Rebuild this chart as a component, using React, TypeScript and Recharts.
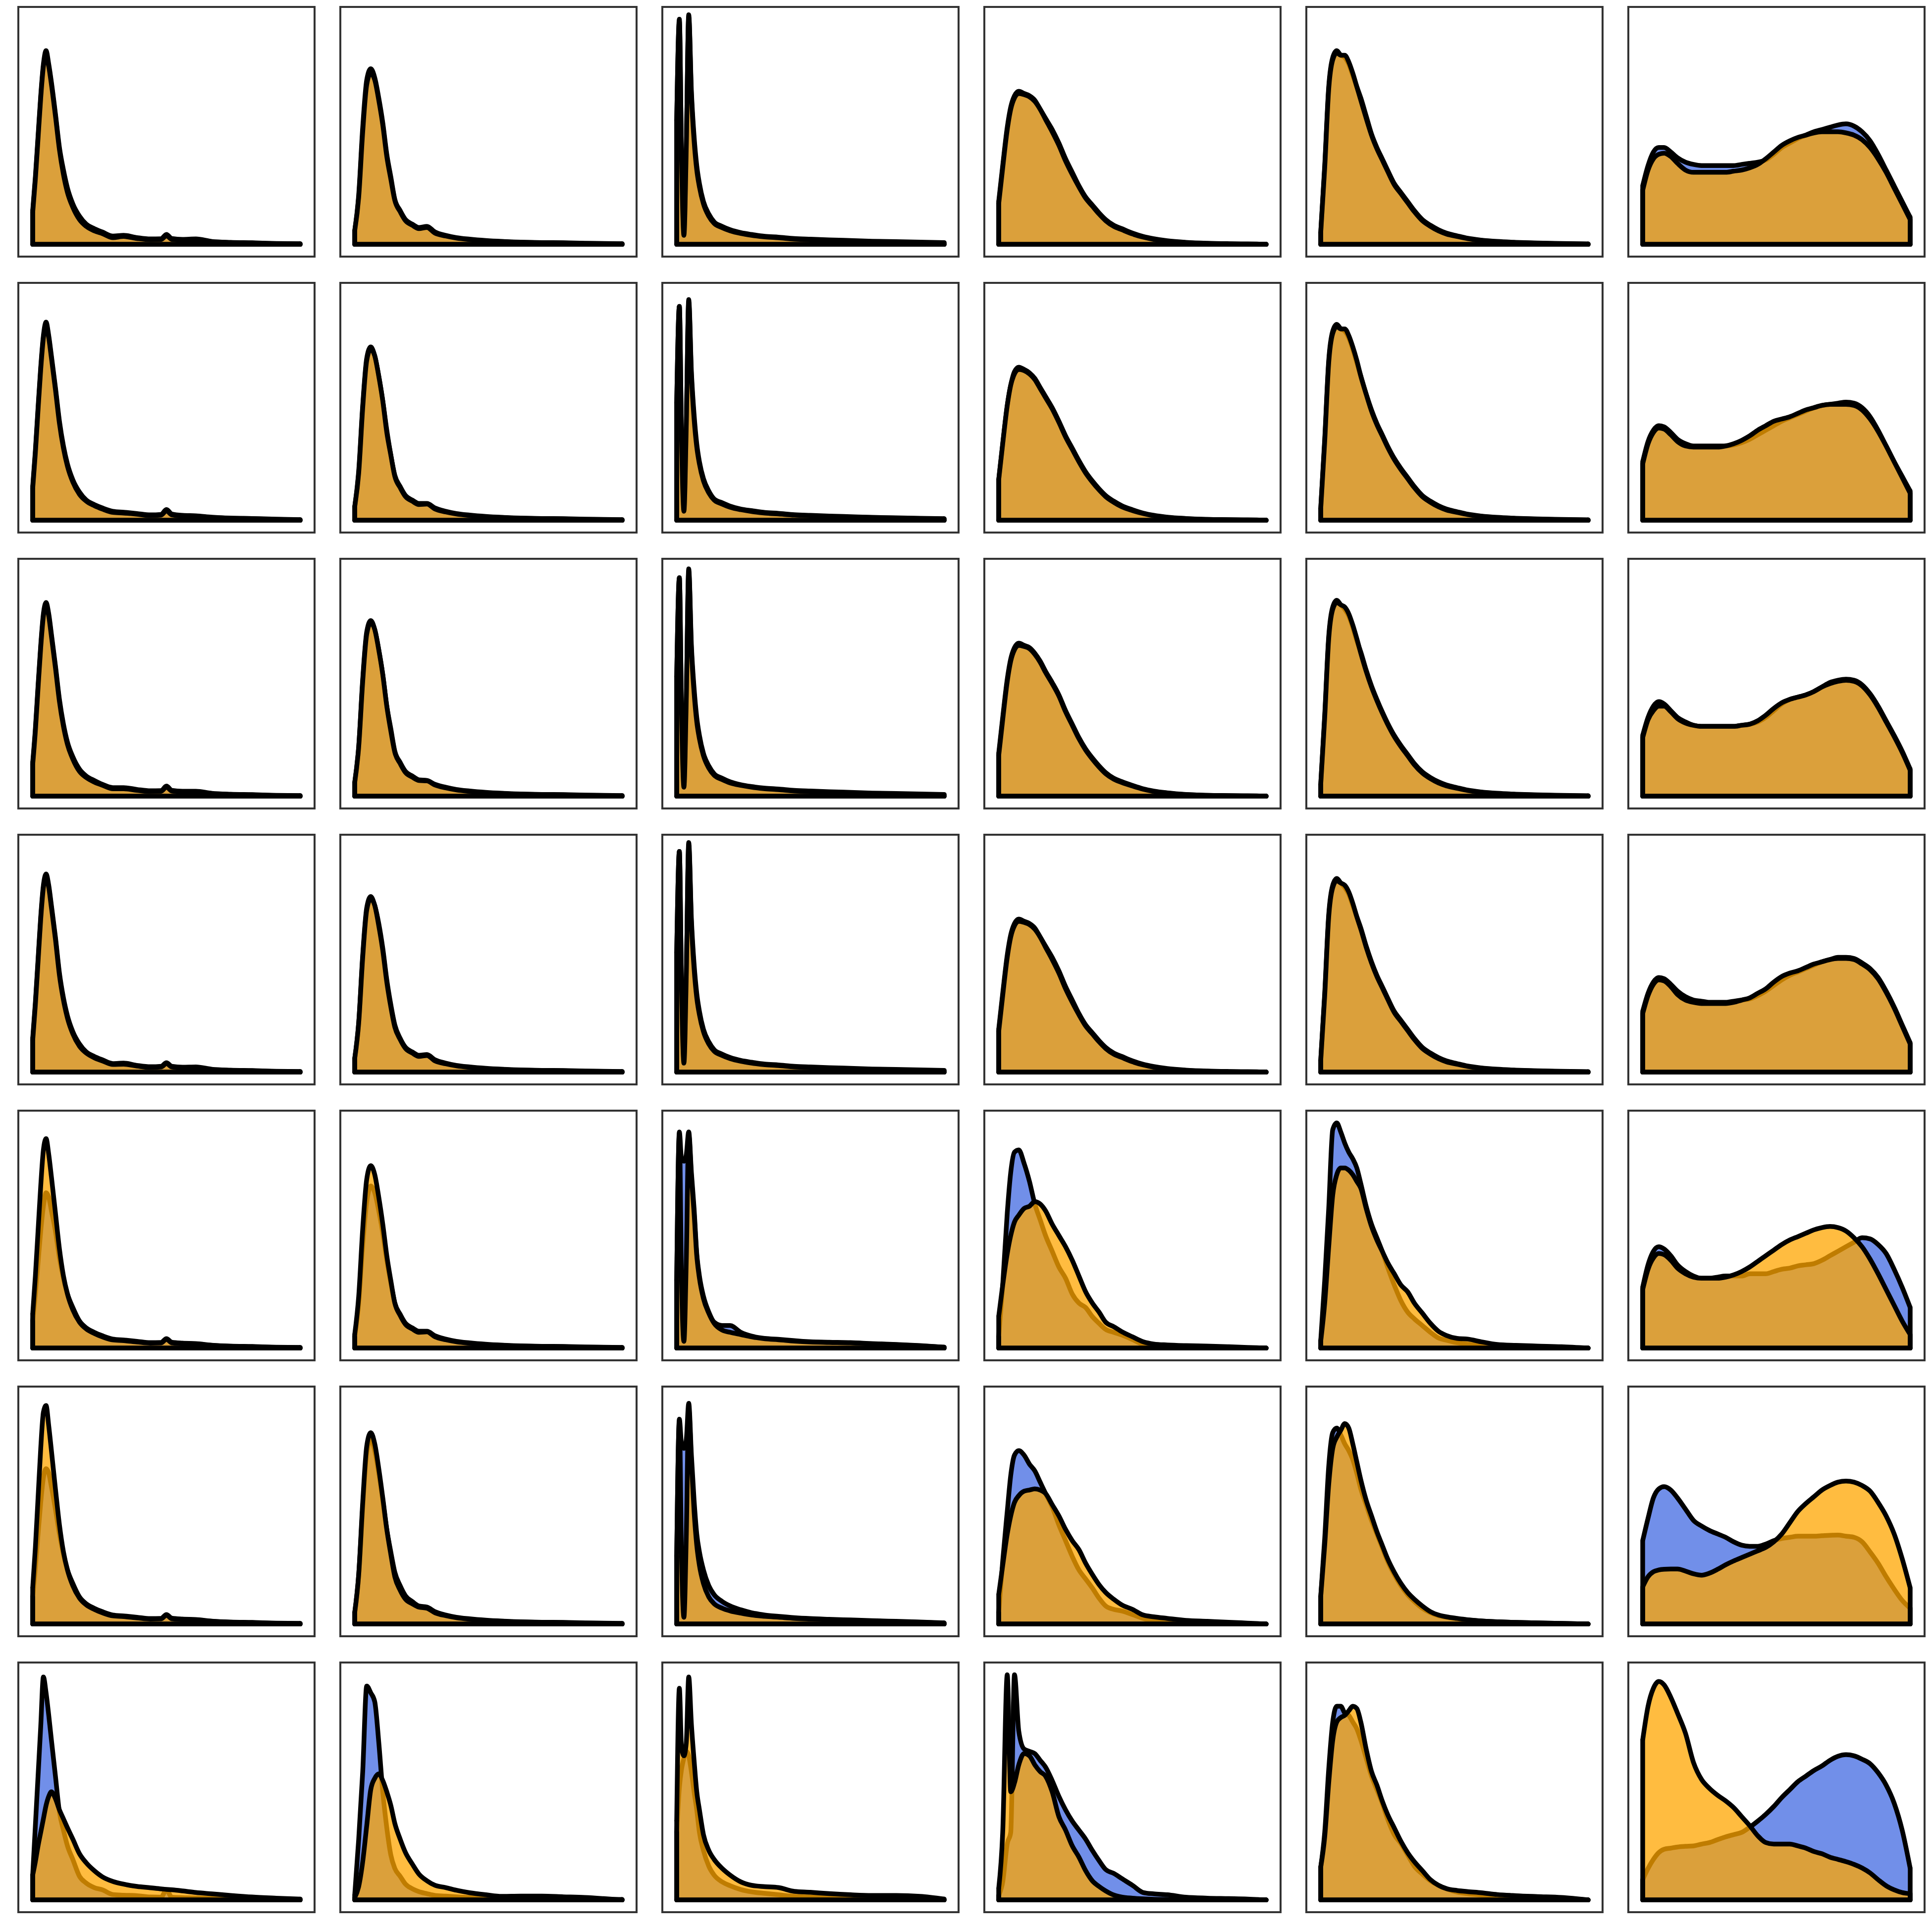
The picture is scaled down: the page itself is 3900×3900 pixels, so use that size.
import { ComposedChart, Area, XAxis, YAxis, ReferenceLine } from 'recharts';

// x positions (percent of each column's data range) and density heights
// (percent of the column's tallest curve).
const xC1 = [0, 1, 2, 3, 4, 5, 6, 7, 8.5, 10, 11.5, 13, 15, 17.5, 20, 23, 26, 30, 34, 39, 44, 48, 50, 52, 56, 61, 67, 74, 82, 91, 100];
const blueC1 = [
  [15, 30, 48, 66, 80, 86, 80, 72, 58, 43, 33, 25, 18, 12.5, 9, 7, 5.5, 3.7, 4, 3, 2.4, 2.5, 4.4, 2.6, 2.2, 2.4, 1.3, 0.9, 0.7, 0.4, 0.3],
  [15, 31, 50, 68, 82, 88, 82, 73, 59, 44, 33, 25, 18, 12.5, 9, 7, 5.5, 4, 3.6, 3, 2.4, 2.6, 4.8, 2.8, 2.2, 2, 1.4, 1, 0.8, 0.5, 0.3],
  [15, 30, 49, 67, 81, 86, 81, 72, 58, 43, 32, 24, 17.5, 12, 9, 7, 5.3, 3.8, 3.8, 3, 2.4, 2.5, 4.5, 2.6, 2.2, 2.2, 1.3, 0.9, 0.7, 0.4, 0.3],
  [15, 31, 50, 69, 83, 88, 83, 74, 60, 44, 33, 25, 18, 12.5, 9, 7, 5.5, 3.8, 4, 3, 2.4, 2.6, 4.2, 2.6, 2.2, 2.3, 1.3, 0.9, 0.7, 0.4, 0.3],
  [12, 24, 38, 52, 63, 69, 67, 61, 52, 40, 31, 24, 18, 12, 9, 7, 5.5, 4, 3.6, 3, 2.4, 2.5, 4.2, 2.6, 2.2, 2, 1.3, 0.9, 0.7, 0.4, 0.3],
  [12, 25, 40, 54, 65, 69, 67, 61, 51, 40, 31, 24, 18, 12, 9, 7, 5.5, 4, 3.6, 3, 2.4, 2.5, 4.2, 2.6, 2.2, 2, 1.3, 0.9, 0.7, 0.4, 0.3],
  [11, 33, 55, 77, 99, 92, 82, 71, 55, 39, 31, 24, 18, 10.5, 7.5, 5.5, 4.5, 2.4, 2.1, 1.9, 1.3, 1.2, 4.5, 1.2, 1, 0.9, 0.7, 0.6, 0.5, 0.4, 0.3],
];
const orangeC1 = [
  [14, 29, 47, 65, 79, 84, 79, 71, 57, 42, 31, 23, 16.5, 11, 8, 6, 4.8, 3, 3.5, 2.6, 2.1, 2.2, 3.8, 2.2, 1.9, 2, 1.1, 0.8, 0.6, 0.3, 0.2],
  [14, 30, 49, 67, 81, 87, 81, 72, 58, 43, 32, 24, 17, 11.5, 8.5, 6.5, 5, 3.5, 3.2, 2.7, 2.1, 2.3, 4.2, 2.4, 1.9, 1.8, 1.2, 0.9, 0.7, 0.4, 0.2],
  [14, 29, 48, 66, 80, 85, 80, 71, 57, 42, 31, 23, 16.5, 11, 8.3, 6.3, 4.9, 3.3, 3.3, 2.6, 2.1, 2.2, 4, 2.3, 1.9, 1.9, 1.1, 0.8, 0.6, 0.3, 0.2],
  [14, 30, 49, 68, 82, 87, 82, 73, 59, 43, 32, 24, 17, 11.5, 8.5, 6.4, 5, 3.4, 3.5, 2.7, 2.1, 2.3, 3.8, 2.3, 1.9, 2, 1.1, 0.8, 0.6, 0.3, 0.2],
  [15, 32, 52, 72, 88, 93, 86, 76, 60, 44, 32, 24, 17, 11.5, 8.5, 6.5, 5, 3.6, 3.3, 2.7, 2.2, 2.3, 3.9, 2.3, 2, 1.8, 1.2, 0.8, 0.6, 0.3, 0.2],
  [16, 34, 56, 78, 94, 97, 88, 77, 60, 44, 32, 24, 17, 11.5, 8.5, 6.5, 5, 3.6, 3.3, 2.7, 2.2, 2.3, 3.9, 2.3, 2, 1.8, 1.2, 0.8, 0.6, 0.3, 0.2],
  [11, 17, 24, 30, 36, 42, 46, 48, 45, 40, 36, 32, 27, 20.5, 16.5, 13, 10.3, 8.2, 7, 6, 5.4, 4.9, 4.7, 4.5, 4, 3.3, 2.7, 2, 1.3, 0.8, 0.4],
];

const xC2 = [0, 1.5, 3, 4.5, 6, 7.5, 9, 10.5, 12, 13.5, 15, 17, 19, 21.5, 24, 27, 30, 34, 38, 43, 49, 55, 62, 70, 78, 86, 93, 100];
const blueC2 = [
  [6, 22, 52, 73, 78, 74, 65, 54, 40, 30, 20, 15, 11, 9, 7.5, 8, 5.5, 4, 3, 2.3, 1.7, 1.3, 1, 0.8, 0.7, 0.5, 0.4, 0.3],
  [6, 22, 51, 72, 77, 73, 64, 53, 40, 29, 20, 15, 11, 9, 7.5, 7.5, 5.5, 4, 3, 2.3, 1.7, 1.3, 1, 0.8, 0.7, 0.5, 0.4, 0.3],
  [6, 22, 52, 73, 78, 74, 65, 54, 40, 30, 20, 15, 11, 9, 7.3, 7, 5.3, 4, 3, 2.3, 1.7, 1.3, 1, 0.8, 0.7, 0.5, 0.4, 0.3],
  [6, 22, 52, 73, 78, 74, 66, 55, 41, 30, 21, 15, 11, 9, 7.5, 7.8, 5.5, 4, 3, 2.3, 1.7, 1.3, 1, 0.8, 0.7, 0.5, 0.4, 0.3],
  [5, 20, 46, 65, 72, 69, 61, 51, 39, 29, 20, 15, 11, 9, 7.5, 7.5, 5.5, 4, 3, 2.3, 1.7, 1.3, 1, 0.8, 0.7, 0.5, 0.4, 0.3],
  [5, 22, 52, 76, 82, 77, 67, 55, 42, 32, 23, 17, 12.5, 10, 8, 7.5, 5.5, 4, 3, 2.3, 1.7, 1.3, 1, 0.8, 0.7, 0.5, 0.4, 0.3],
  [2, 27, 57, 95, 92, 88, 70, 48, 32, 20, 14, 10.5, 7, 5, 3.7, 2.8, 2, 1.7, 1.4, 1.1, 0.9, 0.7, 0.6, 0.5, 0.4, 0.3, 0.3, 0.2],
];
const orangeC2 = [
  [6, 21, 50, 71, 76, 73, 64, 53, 39, 29, 19.5, 14.5, 10.5, 8.5, 7, 7.5, 5, 3.7, 2.8, 2.1, 1.5, 1.2, 0.9, 0.7, 0.6, 0.4, 0.3, 0.2],
  [6, 21, 50, 71, 76, 73, 64, 53, 39, 29, 19.5, 14.5, 10.5, 8.5, 7, 7.2, 5, 3.7, 2.8, 2.1, 1.5, 1.2, 0.9, 0.7, 0.6, 0.4, 0.3, 0.2],
  [6, 22, 51, 72, 77, 74, 65, 54, 40, 29, 19.5, 14.5, 10.5, 8.5, 7, 6.8, 5, 3.7, 2.8, 2.1, 1.5, 1.2, 0.9, 0.7, 0.6, 0.4, 0.3, 0.2],
  [6, 22, 51, 72, 77, 74, 65, 54, 40, 29, 20, 14.5, 10.5, 8.5, 7, 7.4, 5, 3.7, 2.8, 2.1, 1.5, 1.2, 0.9, 0.7, 0.6, 0.4, 0.3, 0.2],
  [6, 23, 53, 75, 81, 77, 67, 55, 41, 30, 20, 14.5, 10.5, 8.5, 7, 7.2, 5, 3.7, 2.8, 2.1, 1.5, 1.2, 0.9, 0.7, 0.6, 0.4, 0.3, 0.2],
  [5, 22, 54, 79, 85, 80, 69, 56, 42, 31, 21, 15, 11, 9, 7.5, 7, 5, 3.7, 2.8, 2.1, 1.5, 1.2, 0.9, 0.7, 0.6, 0.4, 0.3, 0.2],
  [1, 6, 17, 33, 49, 54, 56, 53, 48, 42, 34, 27, 21, 16, 11.5, 8.5, 6.5, 5.5, 4.3, 3.2, 2.3, 1.6, 1.7, 1.7, 1.4, 1.1, 0.6, 0],
];

const xC3 = [0, 1, 1.8, 2.7, 3.6, 4.5, 5.5, 6.5, 7.5, 8.5, 10, 12, 14, 17, 20, 24, 28, 33, 38, 44, 50, 57, 65, 73, 82, 91, 100];
const blueC3 = [
  [55, 100, 40, 5, 45, 102, 68, 48, 35, 27, 19, 13.5, 10, 8, 6.5, 5.2, 4.4, 3.6, 3.2, 2.6, 2.3, 2, 1.7, 1.4, 1.2, 1, 0.8],
  [52, 95, 38, 5, 44, 98, 66, 47, 34, 26, 18.5, 13, 9.5, 7.8, 6.3, 5, 4.3, 3.5, 3.1, 2.5, 2.2, 1.9, 1.6, 1.3, 1.1, 0.9, 0.7],
  [53, 97, 39, 5, 45, 101, 67, 48, 35, 27, 19, 13.5, 10, 8, 6.4, 5.1, 4.3, 3.6, 3.2, 2.6, 2.3, 2, 1.7, 1.4, 1.2, 1, 0.8],
  [53, 98, 39, 5, 45, 102, 68, 48, 35, 27, 19, 13.5, 10, 8, 6.5, 5.2, 4.4, 3.6, 3.2, 2.6, 2.3, 2, 1.7, 1.4, 1.2, 1, 0.8],
  [30, 96, 84, 83, 86, 96, 78, 62, 42, 32, 23, 16, 11.5, 10, 10, 7, 5.3, 4.3, 3.9, 3.3, 2.8, 2.6, 2.4, 2, 1.6, 1.1, 0.4],
  [30, 91, 80, 78, 82, 98, 75, 55, 40, 32, 24, 17, 13, 10, 8, 6.3, 5, 4, 3.4, 2.8, 2.4, 2.1, 1.8, 1.5, 1.2, 0.9, 0.5],
  [30, 50, 58, 63, 66, 64, 57, 48, 40, 30, 22, 15, 11, 8, 6.3, 4.6, 3.6, 2.9, 2.3, 1.6, 1.3, 1.1, 0.9, 0.8, 0.6, 0.4, 0],
];
const orangeC3 = [
  [55, 99, 38, 4, 44, 101, 66, 46, 33, 25.5, 18, 12.5, 9.3, 7.4, 6, 4.8, 4, 3.3, 2.9, 2.3, 2, 1.8, 1.5, 1.2, 1, 0.8, 0.6],
  [52, 95, 36, 4, 43, 97, 64, 45, 32.5, 25, 17.5, 12.2, 9, 7.2, 5.8, 4.7, 3.9, 3.2, 2.8, 2.3, 2, 1.7, 1.4, 1.2, 1, 0.8, 0.6],
  [53, 97, 37, 4, 44, 100, 65, 46, 33, 25.5, 18, 12.5, 9.3, 7.4, 5.9, 4.8, 4, 3.3, 2.9, 2.3, 2, 1.8, 1.5, 1.2, 1, 0.8, 0.6],
  [53, 98, 37, 4, 44, 101, 66, 46, 33, 25.5, 18, 12.5, 9.3, 7.4, 6, 4.8, 4, 3.3, 2.9, 2.3, 2, 1.8, 1.5, 1.2, 1, 0.8, 0.6],
  [30, 95, 30, 3, 40, 95, 76, 60, 41, 31, 22, 15.5, 11, 8, 7, 6, 5, 4.1, 3.7, 3.1, 2.7, 2.5, 2.3, 1.9, 1.5, 1, 0.4],
  [30, 90, 30, 3, 40, 96, 72, 50, 35, 26, 18, 12, 9, 7, 5.8, 4.8, 4, 3.4, 3, 2.5, 2.2, 1.9, 1.6, 1.3, 1, 0.8, 0.4],
  [35, 94, 68, 64, 70, 99, 78, 62, 48, 40, 29, 22, 18, 14, 11, 8, 6.5, 5.9, 5.5, 3.8, 3.4, 2.8, 2.3, 2, 2, 1.6, 0.4],
];

const xC4 = [0, 1.5, 3.2, 4.5, 5.9, 7.5, 9.5, 11.5, 13.5, 15.5, 17.5, 20, 22.5, 25, 27.5, 30, 32.5, 35, 37.5, 40, 43, 46, 50, 54, 58, 63, 70, 78, 86, 93, 100];
const blueC4 = [
  [19, 35, 52, 61, 66, 68, 67, 66, 64, 60, 56, 51, 45, 38, 32, 26, 21, 17.5, 14, 11, 8.5, 7, 5, 3.5, 2.5, 1.6, 0.9, 0.5, 0.3, 0.2, 0.1],
  [18, 34, 51, 60, 66, 68, 67, 65.5, 63, 59, 55, 50, 44, 37.5, 32, 26.5, 21.5, 17.5, 14, 11, 8.5, 6.5, 4.7, 3.2, 2.2, 1.4, 0.8, 0.4, 0.3, 0.2, 0.1],
  [19, 35, 52, 61, 66, 68, 67, 66, 63.5, 60, 55.5, 50.5, 45, 38, 32, 26, 21, 17, 13.5, 10.5, 8, 6.5, 4.8, 3.3, 2.3, 1.5, 0.8, 0.4, 0.3, 0.2, 0.1],
  [19, 35, 52, 61, 66, 68, 67, 66, 64, 60, 56, 51, 45, 38, 32, 26, 21, 17.5, 14, 11, 8.5, 7, 5, 3.5, 2.5, 1.6, 0.9, 0.5, 0.3, 0.2, 0.1],
  [5, 28, 60, 78, 87, 88, 82, 74, 64, 57, 50, 43, 36, 31, 24, 20, 18, 14, 11, 8.3, 7, 5.8, 3.8, 1.6, 0.8, 0.5, 0.3, 0.2, 0.1, 0.1, 0],
  [5, 28, 50, 66, 75, 77, 75, 71, 68, 63, 58, 52, 44, 37, 30, 24, 20, 16, 11.5, 8, 6.5, 5.8, 4.2, 2.5, 1.3, 0.8, 0.5, 0.3, 0.2, 0.1, 0],
  [2, 8, 25, 30, 100, 75, 67, 66, 65, 62, 59, 53, 46, 40, 35, 31, 27, 22, 17.5, 13.5, 11.8, 9.5, 6.5, 3.3, 2.7, 2.3, 1.2, 0.8, 0.6, 0.4, 0],
];
const orangeC4 = [
  [18, 34, 51, 60, 65, 67, 66.5, 65.5, 63.5, 60, 55.5, 50, 44, 37, 31, 25.5, 20.5, 17, 13.5, 10.5, 8, 6.5, 4.6, 3.2, 2.2, 1.4, 0.8, 0.4, 0.2, 0.1, 0],
  [18, 34, 51, 60, 65, 67, 66.5, 65, 62.5, 58.5, 54.5, 49.5, 43.5, 37, 31.5, 26, 21, 17, 13.5, 10.5, 8, 6, 4.3, 3, 2, 1.3, 0.7, 0.4, 0.2, 0.1, 0],
  [18, 34, 51, 60, 65, 67, 66.5, 65.5, 63, 59.5, 55, 50, 44.5, 37.5, 31.5, 25.5, 20.5, 16.5, 13, 10, 7.6, 6.1, 4.5, 3.1, 2.1, 1.4, 0.7, 0.4, 0.2, 0.1, 0],
  [18, 34, 51, 60, 65, 67, 66.5, 65.5, 63.5, 60, 55.5, 50, 44, 37, 31, 25.5, 20.5, 17, 13.5, 10.5, 8, 6.5, 4.6, 3.2, 2.2, 1.4, 0.8, 0.4, 0.2, 0.1, 0],
  [14, 28, 42, 50, 56, 59, 62, 63, 65, 64, 61, 55, 50, 45, 39, 32, 25, 20, 16, 11.5, 9.5, 7.3, 5, 2.8, 1.8, 1.4, 1.1, 0.9, 0.6, 0.3, 0],
  [13, 26, 40, 48, 54, 57, 59, 59.5, 60, 59.5, 58, 53, 48, 42, 37, 33, 27, 22, 17.5, 14, 11, 8.5, 6.5, 4, 3.2, 2.5, 1.6, 1.2, 0.8, 0.4, 0],
  [5, 30, 100, 48, 52, 60, 65, 64, 60, 57, 55, 48, 37, 31, 24, 19, 13, 8.5, 6, 4, 2.2, 1.3, 0.8, 0.5, 0.3, 0.2, 0.1, 0, 0, 0, 0],
];

const xC5 = [0, 1.5, 3, 4.5, 6, 7.5, 9, 10.5, 12, 13.5, 15, 17, 19, 21, 23, 25, 27.5, 30, 32.5, 35, 38, 41, 44, 47, 51, 55, 60, 66, 73, 81, 90, 100];
const blueC5 = [
  [5, 35, 70, 83, 86, 84, 83, 80, 75, 70, 65, 57, 49, 43, 38, 33, 27, 23, 19, 15, 11, 8.5, 6.5, 5, 3.8, 2.7, 1.9, 1.3, 0.9, 0.6, 0.4, 0.2],
  [5, 36, 71, 84, 87, 85, 84, 81, 76, 70, 64, 56, 49, 43, 38, 33, 27.5, 23, 19, 15, 11, 8.5, 6.5, 5, 3.8, 2.7, 1.9, 1.3, 0.9, 0.6, 0.4, 0.2],
  [5, 36, 71, 84, 87, 85, 83, 80, 75, 69, 64, 56, 49, 43, 37.5, 32.5, 27, 22.5, 18.5, 14.5, 10.8, 8.3, 6.4, 5, 3.8, 2.7, 1.9, 1.3, 0.9, 0.6, 0.4, 0.2],
  [5, 35, 70, 83, 86, 84, 82, 79, 74, 69, 64, 56, 49, 43, 38, 33, 27, 23, 19, 15, 11, 8.5, 6.5, 5, 3.8, 2.7, 1.9, 1.3, 0.9, 0.6, 0.4, 0.2],
  [3, 30, 62, 97, 100, 96, 91, 87, 84, 80, 73, 63, 55, 49, 43, 36, 28, 21, 16, 13, 10, 7, 4.5, 3.5, 2.4, 1.7, 1.2, 0.9, 0.6, 0.4, 0.2, 0],
  [12, 38, 70, 85, 87, 84, 80, 77, 73, 67, 60, 53, 46, 40, 34, 28, 22, 17, 13, 10, 7, 5, 3.7, 3, 2.3, 1.8, 1.3, 1, 0.7, 0.5, 0.3, 0],
  [14.5, 30, 58, 79, 86, 86, 83, 82, 79, 76, 71, 63, 55, 49, 43, 36, 29, 25, 20, 15, 11.5, 8.5, 6.5, 5, 3.5, 2.8, 2.2, 1.7, 1.3, 1.1, 0.8, 0],
];
const orangeC5 = [
  [5, 34, 69, 82, 85, 84, 84, 81, 76, 70, 64, 56, 48.5, 42.5, 37.5, 32.5, 26.5, 22.5, 18.5, 14.5, 10.5, 8, 6, 4.6, 3.5, 2.5, 1.7, 1.1, 0.8, 0.5, 0.3, 0.1],
  [5, 35, 70, 83, 86, 85, 85, 82, 77, 71, 64, 56, 48.5, 42.5, 37.5, 32.5, 27, 22.5, 18.5, 14.5, 10.5, 8, 6, 4.6, 3.5, 2.5, 1.7, 1.1, 0.8, 0.5, 0.3, 0.1],
  [5, 35, 70, 83, 86, 85, 84, 81, 76, 70, 63.5, 55.5, 48.5, 42.5, 37, 32, 26.5, 22, 18, 14, 10.3, 7.8, 5.9, 4.6, 3.5, 2.5, 1.7, 1.1, 0.8, 0.5, 0.3, 0.1],
  [5, 34, 69, 82, 85, 84, 83, 80, 75, 69, 63.5, 55.5, 48.5, 42.5, 37.5, 32.5, 26.5, 22.5, 18.5, 14.5, 10.5, 8, 6, 4.6, 3.5, 2.5, 1.7, 1.1, 0.8, 0.5, 0.3, 0.1],
  [3, 20, 45, 68, 77, 80, 80, 79, 77, 74, 71, 62, 54, 48, 43, 38, 33, 28, 25, 20, 15.5, 11, 7.5, 5.6, 4.3, 4, 2.8, 1.6, 1.2, 0.9, 0.6, 0],
  [12, 35, 62, 78, 83, 86, 89, 87, 80, 72, 64, 55, 48, 41, 35, 29, 23, 18, 14, 11, 8, 5.5, 4, 3.2, 2.5, 1.9, 1.4, 1, 0.7, 0.5, 0.3, 0],
  [14.5, 28, 52, 71, 79, 81, 82, 84, 86, 85, 79, 67, 57, 51, 44, 38, 32, 26, 21, 17, 13, 9, 6.5, 5, 4.2, 3.7, 3.2, 2.4, 1.9, 1.5, 1.1, 0],
];

const xC6 = [0, 2, 4, 6, 8, 10.5, 13, 16, 19, 22, 25, 28, 31, 34, 37, 40, 43, 46, 49, 52, 55, 58, 61, 64, 67, 70, 73, 76, 79, 82, 85, 88, 91, 94, 97, 100];
const blueC6 = [
  [26, 35, 41, 43, 43, 41, 38.5, 36.5, 35.5, 35, 35, 35, 35, 35, 35.5, 36, 36.5, 37.5, 40, 43, 45, 47, 48.5, 50, 51, 52, 53, 53.5, 52.5, 50, 46, 40, 33, 26, 19, 12],
  [26, 35, 40, 42, 41.5, 39, 36, 34, 33, 33, 33, 33, 33, 33.5, 34.5, 36, 38, 40, 42, 44, 45.5, 47, 48.5, 50, 51, 51.5, 52, 52.5, 52, 50, 46, 40, 33, 26, 19.5, 13],
  [27, 35, 40, 42, 41, 38, 35, 33, 31.5, 31, 31, 31, 31, 31, 31.5, 32, 33, 35, 38, 41, 43, 44, 45, 46.5, 48.5, 50.5, 51.5, 52, 51.5, 49.5, 45.5, 40, 33.5, 27, 20, 12],
  [27, 35, 40, 42, 41.5, 39, 36, 33.5, 32, 31.5, 31, 31, 31, 31.5, 32, 32.5, 34, 36, 38.5, 41, 43, 44.5, 46, 47.5, 49, 50, 51, 51, 50.5, 48.5, 46, 42, 36, 29, 21, 13],
  [27, 37, 43, 45, 44, 41, 37, 34, 32, 31, 31, 31.5, 32, 32, 32, 33, 33, 33, 34, 35, 35.5, 36.5, 37, 37.5, 39, 41, 43, 45, 47, 49, 48.5, 46, 42, 35, 27, 18],
  [37, 47, 56, 60, 61, 59.5, 56, 51, 46, 43.5, 41.5, 40, 38.5, 36.5, 35, 34.5, 34.5, 35.5, 37, 38, 38.5, 39, 39, 39, 39.2, 39.4, 39.5, 39, 38.5, 36.5, 32, 27, 21, 15.5, 10.5, 7],
  [9, 14, 18, 21, 22.5, 23, 23.5, 23.8, 24, 24.8, 25.5, 26.8, 28, 29, 30, 32.3, 35, 38, 41.5, 45.5, 49, 52.5, 55, 57.5, 59.5, 62, 63.8, 64.5, 64, 62.5, 60.5, 56.5, 51, 43, 31, 14],
];
const orangeC6 = [
  [24, 33, 38, 40, 40.5, 39, 36, 33, 32, 32, 32, 32, 32, 32.5, 33, 34, 35.5, 38, 41, 44, 46, 47.5, 48.5, 49.5, 50, 50, 50, 49.5, 48.5, 46.5, 43, 38, 32, 25, 18, 11],
  [25, 34, 39, 41, 40.5, 38, 35, 33, 32.5, 32.5, 32.5, 32.5, 33, 34, 35.5, 37.5, 40, 42, 44, 45, 46, 47.5, 49, 50, 51, 51.5, 51.5, 51.5, 51, 49, 45, 39.5, 33, 26, 19, 12],
  [26, 34, 38, 40, 40, 37.5, 34.5, 32.5, 31.5, 31, 31, 31, 31, 31, 31.5, 32, 33.5, 36, 39, 41.5, 43, 44, 45, 46.5, 48.5, 50, 51, 51.5, 51, 49, 45, 39.5, 33, 26.5, 19.5, 11.5],
  [26, 34, 39, 41, 40.5, 38, 34.5, 32, 31, 30.5, 30.5, 30.5, 30.5, 31, 32, 33, 35, 37, 40, 42.5, 44, 45, 46.5, 48, 49, 50, 50.5, 50.5, 50, 48, 45.5, 41.5, 35.5, 28.5, 20.5, 12.5],
  [26, 35, 40, 42, 41.5, 39, 35.5, 33, 31.5, 31, 31, 31, 31.5, 32.5, 34, 36, 38.5, 41, 43.5, 46, 48, 49.5, 51, 52.5, 53.5, 54, 53.5, 52, 49, 45, 39.5, 33, 26, 19, 12, 6],
  [16.5, 21, 23.2, 24, 24.3, 24.4, 24.4, 23.5, 22.3, 21.7, 22.6, 24.3, 26.3, 28, 29.5, 31, 32.5, 34, 36.5, 40, 45, 50, 53.5, 56.5, 59.5, 61.5, 63, 63.5, 63, 61.5, 59, 54, 48, 40, 29, 16],
  [71, 86, 94, 97, 95.5, 90, 83, 74, 61, 53.5, 49.5, 46.5, 44, 41, 37, 33, 28.5, 25.5, 24.8, 24.8, 24.8, 24, 23, 21.5, 20.5, 19, 18, 17, 15.8, 14.2, 12, 9, 6.3, 4.5, 3.3, 2.8],
];

const columns = [
  { xs: xC1, blue: blueC1, orange: orangeC1 },
  { xs: xC2, blue: blueC2, orange: orangeC2 },
  { xs: xC3, blue: blueC3, orange: orangeC3 },
  { xs: xC4, blue: blueC4, orange: orangeC4 },
  { xs: xC5, blue: blueC5, orange: orangeC5 },
  { xs: xC6, blue: blueC6, orange: orangeC6 },
];

const CELL_W = 650;
const CELL_H = 557;
const FRAME_LEFT = 35;
const FRAME_TOP = 12;
const FRAME_W = 602;
const FRAME_H = 508;
const BORDER = 4;
const LINE = 9.5;

interface PanelProps { xs: number[]; blue: number[]; orange: number[]; left: number; top: number; }

// outline of one filled density: left/right edges and the baseline
function edges(xs: number[], ys: number[], key: string) {
  const x0 = xs[0];
  const x1 = xs[xs.length - 1];
  const lineProps = { stroke: '#000', strokeWidth: LINE, strokeLinecap: 'round' as const, ifOverflow: 'visible' as const };
  return [
    <ReferenceLine key={`${key}-l`} segment={[{ x: x0, y: 0 }, { x: x0, y: ys[0] }]} {...lineProps} />,
    <ReferenceLine key={`${key}-r`} segment={[{ x: x1, y: 0 }, { x: x1, y: ys[ys.length - 1] }]} {...lineProps} />,
    <ReferenceLine key={`${key}-b`} segment={[{ x: x0, y: 0 }, { x: x1, y: 0 }]} {...lineProps} />,
  ];
}

function Panel({ xs, blue, orange, left, top }: PanelProps) {
  const data = xs.map((x, i) => ({ x, blue: blue[i], orange: orange[i] }));
  return (
    <div style={{ position: 'absolute', left, top, width: FRAME_W, height: FRAME_H, border: `${BORDER}px solid #333`, boxSizing: 'border-box' }}>
      <ComposedChart width={FRAME_W - 2 * BORDER} height={FRAME_H - 2 * BORDER} data={data} margin={{ top: 0, right: 0, bottom: 0, left: 0 }}>
        <XAxis type="number" dataKey="x" domain={[-5, 105]} allowDataOverflow hide />
        <YAxis type="number" domain={[-5, 105]} allowDataOverflow hide />
        <Area type="monotone" dataKey="blue" baseValue={0} fill="royalblue" fillOpacity={0.75}
          stroke="#000" strokeWidth={LINE} strokeLinejoin="round" dot={false} activeDot={false} isAnimationActive={false} />
        {edges(xs, blue, 'b')}
        <Area type="monotone" dataKey="orange" baseValue={0} fill="orange" fillOpacity={0.75}
          stroke="#000" strokeWidth={LINE} strokeLinejoin="round" dot={false} activeDot={false} isAnimationActive={false} />
        {edges(xs, orange, 'o')}
      </ComposedChart>
    </div>
  );
}

export default function App() {
  return (
    <div style={{ position: 'absolute', left: 0, top: 0, width: 3900, height: 3900, background: '#fff' }}>
      {columns.map((col, c) =>
        col.blue.map((_, r) => (
          <Panel
            key={`${r}-${c}`}
            xs={col.xs}
            blue={col.blue[r]}
            orange={col.orange[r]}
            left={c * CELL_W + FRAME_LEFT}
            top={r * CELL_H + FRAME_TOP}
          />
        ))
      )}
    </div>
  );
}
